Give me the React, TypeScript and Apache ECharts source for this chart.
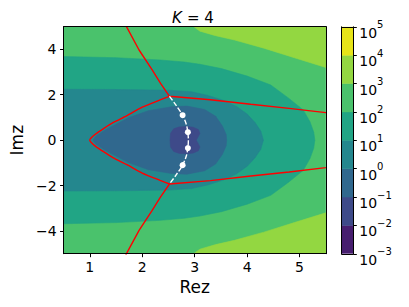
import React, { useEffect, useRef } from 'react';
import * as echarts from 'echarts';

// axis ranges and ticks
const xRange = [0.5, 5.5];
const yRange = [-5, 5];
const xTicks = [1, 2, 3, 4, 5];
const yTicks = [-4, -2, 0, 2, 4];
const cbExponents = [-3, -2, -1, 0, 1, 2, 3, 4, 5];
// viridis band colours, 1e-3..1e-2 up to 1e4..1e5
const bandColors = ['#471e6f', '#3e4a89', '#30688e', '#24878e', '#21a585', '#4ac26c', '#93d741', '#e6e419'];

// contour lines (upper half, Re z, Im z)
const c1e3 = [[2.98, 5.0], [3.1, 4.8], [3.4, 4.6], [3.76, 4.41], [4.32, 4.05], [4.9, 3.63], [5.5, 3.2]];
const c1e2 = [[0.5, 3.68], [1.5, 3.63], [2.34, 3.53], [2.8, 3.44], [3.1, 3.34], [3.51, 3.15], [4.0, 2.82], [4.45, 2.43], [4.79, 1.85], [5.07, 1.33], [5.2, 0.8], [5.27, 0.35], [5.29, 0]];
const c1e1 = [[0.5, 2.24], [1.5, 2.23], [2.5, 2.2], [2.94, 2.13], [3.25, 1.97], [3.55, 1.75], [3.8, 1.48], [4.0, 1.15], [4.15, 0.78], [4.26, 0.4], [4.31, 0]];
const c1e0 = [[1.06, 0], [1.12, 0.18], [1.31, 0.47], [1.75, 1.0], [2.12, 1.3], [2.56, 1.47], [2.85, 1.5], [3.19, 1.35], [3.4, 1.05], [3.53, 0.62], [3.6, 0.25], [3.61, 0]];
const c1em1 = [[2.53, 0], [2.54, 0.3], [2.6, 0.5], [2.7, 0.58], [2.85, 0.6], [2.97, 0.57], [3.07, 0.47], [3.1, 0.3], [3.06, 0.12], [3.03, 0]];

// red curves (upper half)
const redTop = [[1.68, 5.1], [1.7, 5.0], [1.94, 3.97], [2.19, 3.09], [2.35, 2.5], [2.52, 1.93]];
const redRight = [[3.3, 1.78], [4.07, 1.58], [4.8, 1.4], [5.5, 1.21], [5.6, 1.18]];
const redLeft = [[2.52, 1.93], [2.34, 1.77], [2.0, 1.45], [1.71, 1.08], [1.45, 0.78], [1.27, 0.52], [1.1, 0.25], [1.02, 0.08], [1.0, 0]];
// white dashed curve and its roots
const whiteCurve = [[2.52, 1.93], [2.65, 1.52], [2.77, 1.1], [2.84, 0.7], [2.87, 0.35], [2.88, 0]];
const roots = [[2.77, 1.1], [2.87, 0.35], [2.87, -0.35], [2.77, -1.1]];

const mirrorClose = (pts: number[][]) => [...pts, ...pts.slice(0, -1).reverse().map(([x, y]) => [x, -y])];
const flip = (pts: number[][]) => pts.map(([x, y]) => [x, -y]);

const font = 'DejaVu Sans';
const minus = (v: number) => (v < 0 ? '\u2212' + Math.abs(v) : String(v));

export default function App() {
  const ref = useRef<HTMLDivElement>(null);
  useEffect(() => {
    if (!ref.current) return;
    const chart = echarts.init(ref.current, undefined, { renderer: 'svg' });

    const topBand = [...c1e3, [xRange[1], yRange[1]]];
    const bands = [
      { poly: [[xRange[0], yRange[0]], [xRange[1], yRange[0]], [xRange[1], yRange[1]], [xRange[0], yRange[1]]], color: bandColors[5] },
      { poly: topBand, color: bandColors[6] },
      { poly: flip(topBand), color: bandColors[6] },
      { poly: mirrorClose(c1e2), color: bandColors[4] },
      { poly: mirrorClose(c1e1), color: bandColors[3] },
      { poly: mirrorClose(c1e0), color: bandColors[2] },
      { poly: mirrorClose(c1em1), color: bandColors[1] },
    ];
    const redUpper = [...redTop, ...redRight];
    const cbBands = cbExponents.slice(0, -1).map((e, i) => [0, e, i]);

    const lineAxis = (grid: number, pos: string, min: number, max: number) => ({
      gridIndex: grid, type: 'value', position: pos, min, max, z: 5,
      axisLine: { show: true, onZero: false, lineStyle: { color: '#000', width: 1 } },
      axisTick: { show: false }, axisLabel: { show: false }, splitLine: { show: false },
    });

    chart.setOption({
      animation: false,
      backgroundColor: '#fff',
      textStyle: { fontFamily: font },
      graphic: [
        {
          type: 'text', x: 172, y: 17.5, z: 10,
          style: { text: 'K', fontSize: 15, fontStyle: 'italic', fontFamily: font, fill: '#000', align: 'left', verticalAlign: 'middle' },
        },
        {
          type: 'text', x: 187, y: 17.5, z: 10,
          style: { text: '= 4', fontSize: 15, fontFamily: font, fill: '#000', align: 'left', verticalAlign: 'middle' },
        },
      ],
      grid: [
        { left: 60.5, top: 26.6, width: 265.3, height: 227.1 },
        { left: 341.7, top: 26.8, width: 11.6, height: 227.0 },
      ],
      xAxis: [
        {
          gridIndex: 0, type: 'value', position: 'bottom', min: xRange[0], max: xRange[1], z: 5,
          axisLine: { show: true, onZero: false, lineStyle: { color: '#000', width: 1 } },
          axisTick: { show: true, customValues: xTicks, length: 3.5, lineStyle: { color: '#000' } },
          axisLabel: { customValues: xTicks, fontSize: 14, color: '#000', margin: 6, fontFamily: font },
          splitLine: { show: false },
          name: 'Rez', nameLocation: 'middle', nameGap: 23.6, nameTextStyle: { fontSize: 17, color: '#000', fontFamily: font },
        },
        lineAxis(0, 'top', xRange[0], xRange[1]),
        lineAxis(1, 'bottom', 0, 1),
        lineAxis(1, 'top', 0, 1),
      ],
      yAxis: [
        {
          gridIndex: 0, type: 'value', position: 'left', min: yRange[0], max: yRange[1], z: 5,
          axisLine: { show: true, onZero: false, lineStyle: { color: '#000', width: 1 } },
          axisTick: { show: true, customValues: yTicks, length: 3.5, lineStyle: { color: '#000' } },
          axisLabel: { customValues: yTicks, fontSize: 14, color: '#000', margin: 7, fontFamily: font, formatter: (v: number) => minus(v) },
          splitLine: { show: false },
          name: 'Imz', nameLocation: 'middle', nameGap: 34.5, nameTextStyle: { fontSize: 17, color: '#000', fontFamily: font },
        },
        lineAxis(0, 'right', yRange[0], yRange[1]),
        lineAxis(1, 'left', cbExponents[0], cbExponents[cbExponents.length - 1]),
        {
          gridIndex: 1, type: 'value', position: 'right', min: cbExponents[0], max: cbExponents[cbExponents.length - 1], interval: 1, z: 5,
          axisLine: { show: true, onZero: false, lineStyle: { color: '#000', width: 1 } },
          axisTick: { show: true, length: 3.5, lineStyle: { color: '#000' } },
          splitLine: { show: false },
          axisLabel: {
            margin: 6, padding: [6, 0, 0, 0], color: '#000', fontFamily: font,
            formatter: (v: number) => `{b|10}{s|${minus(v)}}`,
            rich: {
              b: { fontSize: 14, lineHeight: 20, verticalAlign: 'bottom', color: '#000', fontFamily: font },
              s: { fontSize: 10, lineHeight: 10, verticalAlign: 'top', color: '#000', fontFamily: font },
            },
          },
        },
      ],
      series: [
        {
          type: 'custom', xAxisIndex: 0, yAxisIndex: 0, clip: true, z: 1, silent: true,
          encode: { x: 0, y: 1 },
          data: bands.map((b, i) => [b.poly[0][0], b.poly[0][1], i]),
          renderItem: (params: any, api: any) => {
            const b = bands[params.dataIndex];
            return {
              type: 'polygon',
              shape: { points: b.poly.map((p) => api.coord(p)) },
              style: { fill: b.color, stroke: b.color, lineWidth: 0.6 },
            };
          },
        },
        {
          type: 'custom', xAxisIndex: 2, yAxisIndex: 2, clip: true, z: 1, silent: true,
          encode: { x: 0, y: 1 },
          data: cbBands,
          renderItem: (params: any, api: any) => {
            const lo = api.value(1);
            const p0 = api.coord([0, lo + 1]);
            const p1 = api.coord([1, lo]);
            return {
              type: 'rect',
              shape: { x: p0[0], y: p0[1], width: p1[0] - p0[0], height: p1[1] - p0[1] },
              style: { fill: bandColors[params.dataIndex], stroke: bandColors[params.dataIndex], lineWidth: 0.5 },
            };
          },
        },
        {
          type: 'line', xAxisIndex: 0, yAxisIndex: 0, data: redUpper, showSymbol: false, z: 3, silent: true,
          lineStyle: { color: '#ff0000', width: 1.4 }, clip: true,
        },
        {
          type: 'line', xAxisIndex: 0, yAxisIndex: 0, data: flip(redUpper), showSymbol: false, z: 3, silent: true,
          lineStyle: { color: '#ff0000', width: 1.4 }, clip: true,
        },
        {
          type: 'line', xAxisIndex: 0, yAxisIndex: 0, data: mirrorClose(redLeft), showSymbol: false, z: 3, silent: true,
          lineStyle: { color: '#ff0000', width: 1.4 }, clip: true, smooth: 0.2,
        },
        {
          type: 'line', xAxisIndex: 0, yAxisIndex: 0, data: mirrorClose(whiteCurve), showSymbol: false, z: 4, silent: true,
          lineStyle: { color: '#ffffff', width: 1.4, type: [5, 2] }, clip: true, smooth: 0.3,
        },
        {
          type: 'scatter', xAxisIndex: 0, yAxisIndex: 0, data: roots, symbolSize: 6, z: 4, silent: true,
          itemStyle: { color: '#ffffff', opacity: 1 },
        },
      ],
    });
    return () => chart.dispose();
  }, []);
  return <div ref={ref} style={{ position: 'fixed', left: 0, top: 0, width: 409, height: 307 }} />;
}
